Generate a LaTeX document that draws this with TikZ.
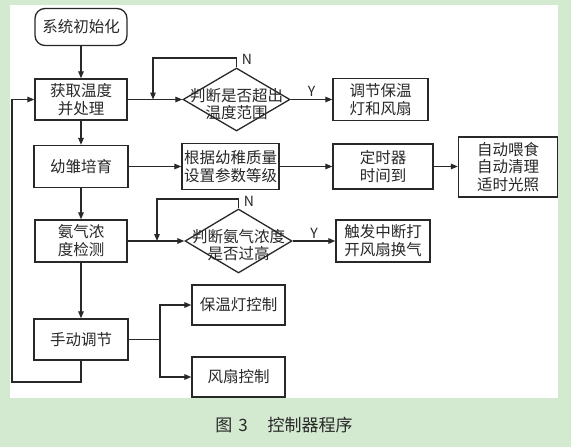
\documentclass[tikz,border=0pt]{standalone}
\usepackage{fontspec}
\newfontfamily\cjk{Noto Sans CJK SC}
\usetikzlibrary{arrows.meta,shapes.geometric}
\definecolor{bggreen}{RGB}{211,233,208}
\definecolor{ink}{RGB}{40,40,40}
\begin{document}
\begin{tikzpicture}[x=1pt,y=-1pt,
  box/.style={draw=ink,line width=1.3pt,inner sep=0pt,align=center,text=ink,
    font=\cjk\fontsize{15.5}{18}\selectfont},
  sz/.style 2 args={minimum width=#1,minimum height=#2},
  dia/.style={draw=ink,line width=1.3pt,shape=diamond,inner sep=0pt},
  txt/.style={inner sep=0pt,align=center,text=ink,font=\cjk\fontsize{15.5}{17}\selectfont},
  lbl/.style={inner sep=1pt,text=ink,font=\cjk\fontsize{14}{16}\selectfont},
  line/.style={draw=ink,line width=1.2pt},
  arr/.style={line,-{Triangle[length=7pt,width=5.5pt]}},
  captext/.style={inner sep=0pt,text=ink,font=\cjk\fontsize{17}{20}\selectfont}]
\useasboundingbox (0,0) rectangle (571,447);
\fill[bggreen] (0,0) rectangle (571,447);
\fill[white] (10,5) rectangle (558,398);

% nodes
\node[box,sz={92}{37},rounded corners=10pt] (init) at (81,27) {系统初始化};
\node[box,sz={92}{41}] (get) at (81,99.5) {获取温度\\并处理};
\node[dia,minimum width=107,minimum height=63] (d1) at (236.5,99.5) {};
\node[txt] (d1t) at (236.5,104) {判断是否超出\\温度范围};
\node[box,sz={95}{42}] (adj) at (380.5,99.5) {调节保温\\灯和风扇};

\node[box,sz={94}{42}] (nurse) at (81,166.5) {幼雏培育};
\node[box,sz={97}{46}] (param) at (230.5,166.5) {根据幼稚质量\\设置参数等级};
\node[box,sz={100}{45}] (timer) at (383,166.5) {定时器\\时间到};
\node[box,sz={99}{60},font=\cjk\fontsize{15.5}{17.5}\selectfont] (auto) at (508,167) {自动喂食\\自动清理\\适时光照};

\node[box,sz={92}{42}] (nh3) at (81,241) {氨气浓\\度检测};
\node[dia,minimum width=107,minimum height=64] (d2) at (238.5,241) {};
\node[txt] (d2t) at (238.5,245) {判断氨气浓度\\是否过高};
\node[box,sz={94}{42}] (trig) at (383,241) {触发中断打\\开风扇换气};

\node[box,sz={94}{41}] (manual) at (81,339.5) {手动调节};
\node[box,sz={93}{40}] (lamp) at (238.5,305) {保温灯控制};
\node[box,sz={93}{40}] (fan) at (238.5,377) {风扇控制};

% labels
\node[lbl] (N1) at (247,59) {N};
\node[lbl] (N2) at (249,201) {N};

% coordinates
\coordinate (n1) at (153,58);
\coordinate (n2) at (157,199);
\coordinate (j) at (160,339.5);
\coordinate (lb) at (12,382);

% connectors
\draw[arr] (init) -- (get);
\draw[arr] (get) -- (nurse);
\draw[arr] (nurse) -- (nh3);
\draw[arr] (nh3) -- (manual);

\draw[arr] (get) -- (d1);
\draw[arr] (d1) -- node[lbl,above=1pt] (Y1) {Y} (adj);
\draw[arr] (d1.north) |- (n1) -- (n1 |- get.east);

\draw[arr] (nurse) -- (param);
\draw[arr] (param) -- (timer);
\draw[arr] (timer) -- (timer -| auto.west);

\draw[arr] (nh3) -- (d2);
\draw[arr] (d2) -- node[lbl,above=1pt] (Y2) {Y} (trig);
\draw[arr] (d2.north) |- (n2) -- (n2 |- nh3.east);

\draw[line] (manual) -- (j);
\draw[arr] (j) |- (lamp);
\draw[arr] (j) |- (fan);
\draw[arr] (manual.south) |- (lb) |- (get.west);

\node[captext] (caption) at (284,425) {图\hspace{6pt}3\hspace{20pt}控制器程序};
\end{tikzpicture}
\end{document}
